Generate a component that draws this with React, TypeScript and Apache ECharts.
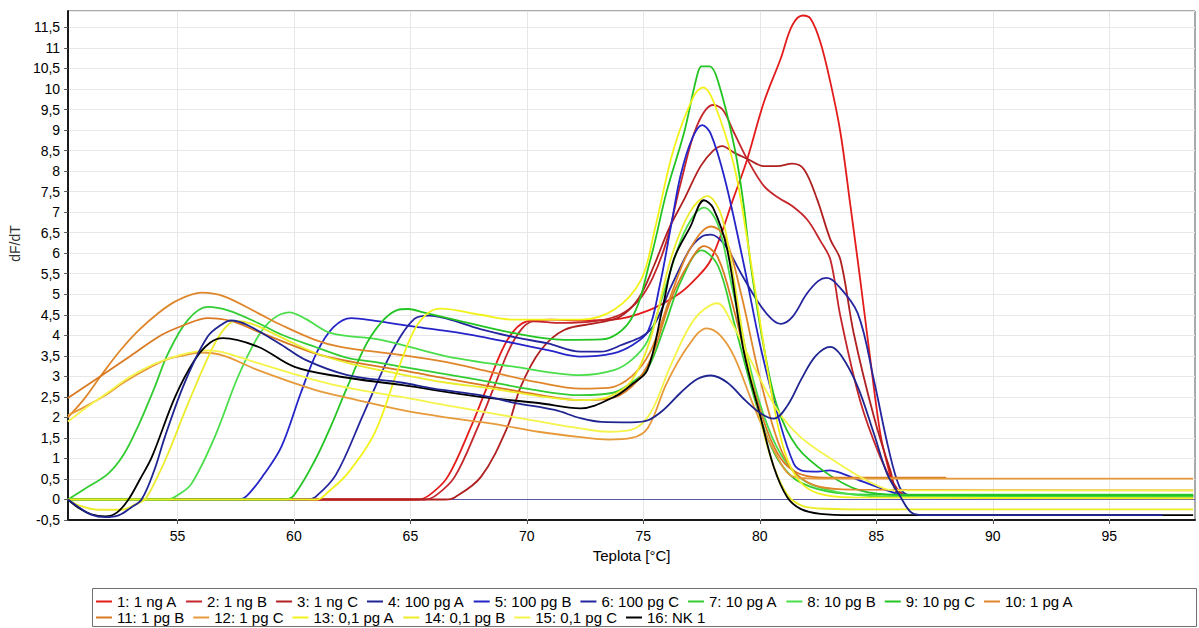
import React, { useEffect, useRef } from "react";
import * as echarts from "echarts";

const FONT = "'Liberation Sans', Arial, Helvetica, sans-serif";

const xTicks = [55, 60, 65, 70, 75, 80, 85, 90, 95];
const xRange = [50.31, 98.68];
const yRange = [-0.5, 11.9];

const seriesNames = [
  "1: 1 ng A", "2: 1 ng B", "3: 1 ng C",
  "4: 100 pg A", "5: 100 pg B", "6: 100 pg C",
  "7: 10 pg A", "8: 10 pg B", "9: 10 pg C",
  "10: 1 pg A", "11: 1 pg B", "12: 1 pg C",
  "13: 0,1 pg A", "14: 0,1 pg B", "15: 0,1 pg C",
  "16: NK 1",
];

const seriesColors = [
  "#e31b1b", "#c4262b", "#b02020",
  "#1f2590", "#2424c8", "#25259e",
  "#33cc33", "#4ade4a", "#22c422",
  "#e0862a", "#d97a22", "#e69a3a",
  "#f2f21a", "#ecec2a", "#f4f44a",
  "#000000",
];

// [temperature °C, dF/dT]
const ng1A = [[50.3,0],[65.3,0],[65.8,0.1],[66.6,0.55],[67.6,1.77],[68.3,2.75],[69.17,3.89],[70.0,4.34],[71,4.38],[72.3,4.36],[73.7,4.38],[75.2,4.6],[76.5,5.0],[77.2,5.35],[77.9,5.84],[78.9,7.39],[79.46,8.29],[80.17,9.67],[80.89,10.73],[81.39,11.55],[81.85,11.79],[82.18,11.71],[82.6,11.14],[83.03,10.16],[83.46,8.94],[83.89,7.15],[84.3,5.4],[84.7,3.6],[85.17,1.61],[85.5,0.8],[85.75,0.38],[86.2,0.12],[87,0.1],[98.6,0.1]];
const ng1B = [[50.3,0],[65.6,0],[66.1,0.1],[66.9,0.55],[67.9,1.77],[68.6,2.75],[69.46,3.89],[70.3,4.34],[71.5,4.3],[73,4.35],[74,4.5],[74.8,4.85],[75.4,5.4],[76.0,6.3],[76.6,7.7],[77.3,9.1],[78.0,9.61],[78.4,9.5],[78.89,8.94],[79.46,8.29],[80.17,7.64],[80.8,7.35],[81.39,7.15],[82.03,6.82],[82.6,6.3],[83.03,5.84],[83.46,4.46],[84.3,2.42],[85.17,1.03],[85.75,0.38],[86.2,0.1],[87,0.07],[98.6,0.07]];
const ng1C = [[50.3,0],[66.5,0],[66.9,0.05],[68.03,0.55],[69.17,1.77],[69.74,2.75],[70.6,3.64],[71.6,4.13],[73.0,4.3],[74.0,4.45],[74.8,4.9],[75.46,5.7],[76.1,6.6],[76.75,7.31],[77.46,8.12],[78.0,8.5],[78.39,8.61],[78.89,8.45],[79.46,8.3],[80.17,8.12],[80.75,8.12],[81.39,8.18],[81.9,8.04],[82.46,7.31],[83.03,6.33],[83.46,5.84],[84.03,4.05],[84.9,2.01],[85.6,0.71],[86.0,0.12],[87,0.1],[98.6,0.1]];
const pg100A = [[50.3,0],[50.8,-0.2],[51.3,-0.37],[51.9,-0.43],[52.5,-0.38],[53.0,-0.2],[53.46,0],[54.0,0.7],[54.46,1.52],[55.3,2.83],[56.3,3.97],[57.0,4.3],[57.3,4.36],[58.0,4.25],[59.46,3.77],[60.5,3.4],[62.3,3.03],[64.6,2.85],[66,2.7],[68.0,2.54],[69.5,2.35],[71.2,2.18],[72.3,1.98],[73.2,1.89],[74.5,1.88],[75.2,1.93],[75.9,2.2],[76.6,2.6],[77.3,2.93],[77.9,3.02],[78.6,2.85],[79.4,2.4],[80.03,2.1],[80.6,1.97],[81.2,2.3],[81.8,2.95],[82.4,3.5],[83.03,3.72],[83.5,3.5],[84.2,2.75],[84.9,1.6],[85.46,0.63],[86.0,0.1],[86.6,-0.35],[87.2,-0.38],[97.3,-0.38]];
const pg100B = [[50.3,0],[57.6,0],[58.0,0.1],[58.7,0.6],[59.46,1.28],[60.3,2.6],[61.0,3.6],[61.7,4.2],[62.46,4.42],[63.5,4.35],[65.17,4.21],[66.6,4.1],[68.0,3.97],[69.5,3.8],[70.9,3.64],[72.3,3.48],[73.7,3.56],[74.5,3.75],[75.2,4.1],[75.7,5.2],[76.2,6.7],[76.6,7.9],[77.1,8.8],[77.53,9.12],[77.9,8.9],[78.5,7.8],[79.3,5.76],[80.03,3.72],[80.75,2.1],[81.46,0.87],[81.9,0.69],[82.5,0.68],[83.0,0.71],[83.6,0.62],[84.3,0.46],[85.46,0.22],[86.2,0.1],[87,0.08],[98.6,0.08]];
const pg100C = [[50.3,0],[60.6,0],[60.9,0.05],[61.8,0.6],[63.0,2.1],[64.17,3.56],[65.17,4.4],[65.8,4.48],[66.6,4.4],[68.0,4.15],[69.5,3.95],[70.9,3.8],[72.3,3.6],[73.17,3.6],[74.0,3.75],[75.3,4.13],[76.2,5.2],[77.0,6.1],[77.5,6.4],[77.9,6.45],[78.5,6.2],[79.2,5.5],[79.96,4.78],[80.5,4.4],[80.9,4.28],[81.4,4.45],[82.0,5.0],[82.5,5.32],[82.86,5.4],[83.3,5.25],[84.2,4.54],[84.9,2.9],[85.5,1.3],[86.0,0.3],[86.4,0.1],[87,0.07],[98.6,0.07]];
const pg10A = [[50.3,0],[51.0,0.25],[52.03,0.63],[52.7,1.1],[53.3,1.77],[54.0,2.7],[54.6,3.56],[55.46,4.38],[56.3,4.69],[57.2,4.6],[58.46,4.3],[59.46,4.02],[60.9,3.72],[62.3,3.45],[63.45,3.35],[65.5,3.15],[68.0,2.91],[70.0,2.7],[72.3,2.54],[73.7,2.6],[74.5,2.85],[75.2,3.2],[75.9,4.2],[76.6,5.3],[77.5,6.07],[78.2,5.7],[78.9,4.3],[79.6,2.8],[80.2,1.7],[80.75,1.0],[81.5,0.5],[82.5,0.25],[83.5,0.15],[85,0.12],[98.6,0.12]];
const pg10B = [[50.3,0],[54.6,0],[55.0,0.1],[55.6,0.38],[56.6,1.52],[57.6,2.99],[58.46,3.97],[59.1,4.4],[59.8,4.56],[60.5,4.4],[61.6,4.05],[63.74,3.89],[66.6,3.48],[69.5,3.23],[72.3,3.03],[73.74,3.15],[74.5,3.4],[75.17,3.85],[75.8,4.9],[76.6,6.3],[77.2,6.95],[77.6,7.11],[78.2,6.7],[78.8,5.2],[79.5,3.4],[80.2,2.0],[80.9,1.1],[81.8,0.5],[82.8,0.25],[84,0.12],[85.5,0.07],[98.6,0.07]];
const pg10C = [[50.3,0],[59.6,0],[60.0,0.1],[60.9,0.95],[61.6,1.8],[62.3,2.75],[63.3,3.97],[64.46,4.62],[64.9,4.64],[65.6,4.55],[66.6,4.42],[69.46,4.05],[71.6,3.89],[73.2,3.9],[74.46,4.38],[75.3,5.84],[76.0,7.5],[76.75,8.94],[77.3,10.31],[77.5,10.55],[77.85,10.55],[78.2,10.2],[78.9,8.61],[79.3,7.2],[79.6,5.76],[80.17,3.72],[80.75,2.26],[81.6,1.28],[82.9,0.63],[84.3,0.22],[86.0,0.11],[98.6,0.1]];
const pg1A = [[50.3,2.0],[51.0,2.45],[51.7,3.0],[52.5,3.6],[53.3,4.1],[54.2,4.55],[55.0,4.85],[56.03,5.04],[57.0,4.95],[58.46,4.54],[59.46,4.25],[60.9,3.89],[62.0,3.72],[64.6,3.52],[66.5,3.35],[68.5,3.1],[70.5,2.85],[72.3,2.7],[73.5,2.72],[74.5,3.0],[75.3,3.6],[76.2,5.0],[77.0,6.1],[77.9,6.65],[78.5,6.4],[79.2,5.0],[79.9,3.2],[80.5,1.9],[81.0,1.1],[81.6,0.6],[82.5,0.32],[84,0.24],[98.6,0.22]];
const pg1B = [[50.3,2.47],[51.7,3.0],[53.0,3.5],[54.3,4.0],[55.3,4.25],[56.3,4.42],[57.3,4.35],[58.46,4.09],[60.9,3.56],[62.5,3.35],[64.6,3.15],[66.5,2.95],[68.5,2.75],[70.5,2.55],[72.3,2.42],[73.5,2.45],[74.5,2.75],[75.3,3.4],[76.2,4.9],[77.0,5.8],[77.6,6.17],[78.2,5.9],[78.9,4.6],[79.6,3.0],[80.3,1.7],[80.9,1.0],[81.6,0.65],[82.5,0.54],[84,0.53],[88,0.53]];
const pg1C = [[50.3,2.05],[51.0,2.25],[51.8,2.5],[52.7,2.85],[53.6,3.15],[54.5,3.4],[55.2,3.5],[56.0,3.58],[57.0,3.5],[58.46,3.15],[60.9,2.67],[62.5,2.45],[64.6,2.18],[66.5,2.0],[68.5,1.85],[70.5,1.65],[72.3,1.52],[73.5,1.46],[74.5,1.5],[75.2,1.75],[76.0,2.83],[76.9,3.72],[77.72,4.17],[78.3,4.0],[78.9,3.48],[79.75,2.26],[80.6,1.2],[81.46,0.55],[82.5,0.51],[84,0.51],[98.6,0.51]];
const pg01A = [[50.3,0],[61.0,0],[61.5,0.2],[62.3,0.63],[63.46,1.61],[64.46,3.15],[65.17,4.13],[65.75,4.54],[66.3,4.65],[68.0,4.5],[69.46,4.38],[72.3,4.38],[73.74,4.62],[74.9,5.35],[75.5,6.6],[76.3,8.53],[77.17,9.83],[77.57,10.04],[78.03,9.67],[78.9,8.12],[79.46,6.33],[80.1,4.0],[80.6,2.3],[81.1,1.1],[81.7,0.45],[82.5,0.15],[84,0.05],[98.6,0.03]];
const pg01B = [[50.3,0],[50.8,-0.15],[51.6,-0.25],[52.6,-0.25],[53.2,-0.12],[53.6,0],[54.1,0.5],[54.6,1.12],[55.46,2.34],[56.46,3.64],[57.0,4.15],[57.5,4.35],[58.2,4.28],[59.46,3.95],[61.0,3.55],[62.5,3.3],[64.6,3.05],[66.5,2.85],[68.5,2.7],[70.5,2.52],[72.3,2.42],[73.5,2.5],[74.5,2.9],[75.3,3.9],[76.2,5.9],[77.0,7.0],[77.75,7.39],[78.3,7.0],[78.7,6.0],[79.4,3.6],[80.0,2.0],[80.6,0.8],[81.2,0.1],[81.8,-0.15],[82.6,-0.22],[84,-0.24],[98.6,-0.24]];
const pg01C = [[50.3,1.9],[51.0,2.2],[52.0,2.6],[53.0,3.0],[54.0,3.3],[55.0,3.5],[56.3,3.63],[57.2,3.55],[58.46,3.32],[60.9,2.91],[62.5,2.7],[64.6,2.5],[66.5,2.3],[68.5,2.1],[70.5,1.9],[72.3,1.73],[73.5,1.65],[74.5,1.7],[75.3,2.1],[76.2,3.3],[77.2,4.4],[78.18,4.78],[78.8,4.3],[79.6,3.4],[80.75,2.18],[81.75,1.52],[83.17,0.95],[84.6,0.46],[85.75,0.22],[87,0.22],[98.6,0.22]];
const nk1 = [[50.3,0],[50.8,-0.22],[51.3,-0.36],[51.9,-0.41],[52.4,-0.32],[52.9,0],[53.4,0.5],[53.9,1.03],[54.9,2.5],[55.74,3.4],[56.4,3.82],[56.96,3.93],[58.46,3.72],[60.03,3.23],[62.0,2.99],[64.6,2.79],[68.0,2.5],[70.5,2.35],[72.3,2.22],[73.75,2.5],[74.5,2.8],[75.17,3.15],[75.8,4.6],[76.3,5.84],[77.03,6.66],[77.6,7.29],[78.0,7.1],[78.6,6.09],[79.3,3.64],[80.03,2.01],[80.6,0.79],[81.17,0.06],[81.75,-0.23],[82.6,-0.35],[84,-0.38],[98.6,-0.38]];

const seriesData = [ng1A, ng1B, ng1C, pg100A, pg100B, pg100C, pg10A, pg10B, pg10C, pg1A, pg1B, pg1C, pg01A, pg01B, pg01C, nk1];

export default function App() {
  const ref = useRef<HTMLDivElement>(null);

  useEffect(() => {
    if (!ref.current) return;
    const chart = echarts.init(ref.current, null, { renderer: "svg" });

    const curveSeries = seriesData.map((d, i) => ({
      name: seriesNames[i],
      type: "line",
      data: d,
      showSymbol: false,
      smooth: 0.35,
      z: i === 3 ? 3 : 2,
      lineStyle: { color: seriesColors[i], width: 1.8 },
      itemStyle: { color: seriesColors[i] },
    }));

    const legendItem = (n: string) => ({ name: n, textStyle: { width: 80 } });
    const legendBase = {
      left: 96,
      orient: "horizontal",
      icon: "rect",
      itemWidth: 16,
      itemHeight: 2,
      itemGap: 9,
      padding: 0,
      selectedMode: false,
      textStyle: { fontSize: 15, color: "#000", fontFamily: FONT, width: 80 },
    };

    chart.setOption({
      animation: false,
      backgroundColor: "#fff",
      grid: {
        left: 67, right: 4, top: 11, bottom: 108,
        show: true, borderColor: "#555", borderWidth: 1, backgroundColor: "#fff",
      },
      xAxis: {
        type: "value",
        min: xRange[0],
        max: xRange[1],
        name: "Teplota [°C]",
        nameLocation: "middle",
        nameGap: 24,
        nameTextStyle: { fontSize: 15, color: "#000", fontFamily: FONT },
        axisLine: { show: true, onZero: false, lineStyle: { color: "#1a1a1a", width: 2 } },
        axisTick: { show: true, length: 4, customValues: xTicks, lineStyle: { color: "#555" } },
        axisLabel: { customValues: xTicks, fontSize: 14, color: "#000", margin: 9, fontFamily: FONT },
        splitLine: { show: false },
      },
      yAxis: {
        type: "value",
        min: yRange[0],
        max: yRange[1],
        interval: 0.5,
        name: "dF/dT",
        nameLocation: "middle",
        nameGap: 40,
        nameTextStyle: { fontSize: 14, color: "#333", fontFamily: FONT, padding: [0, 0, 0, 44] },
        axisLine: { show: true, lineStyle: { color: "#1a1a1a", width: 2 } },
        axisTick: { show: true, length: 4, lineStyle: { color: "#555" } },
        axisLabel: {
          fontSize: 14, color: "#000", margin: 8, fontFamily: FONT, showMaxLabel: false,
          formatter: (v: number) => String(v).replace(".", ","),
        },
        splitLine: { show: true, lineStyle: { color: "#e8e8e8", width: 1 } },
      },
      legend: [
        { ...legendBase, top: 594, data: seriesNames.slice(0, 10).map(legendItem) },
        { ...legendBase, top: 610, data: seriesNames.slice(10).map(legendItem) },
      ],
      graphic: [
        {
          type: "rect",
          shape: { x: 92.5, y: 588.5, width: 1104, height: 38 },
          style: { fill: "none", stroke: "#707070", lineWidth: 1 },
          silent: true,
        },
      ],
      series: [
        {
          name: "__grid",
          type: "line",
          data: [],
          silent: true,
          z: 1,
          markLine: {
            silent: true,
            z: 1,
            symbol: ["none", "none"],
            label: { show: false },
            data: [
              ...xTicks.map((v) => ({ xAxis: v, lineStyle: { color: "#e6e6e6", width: 1, type: "solid" } })),
              { yAxis: 0, lineStyle: { color: "#5a5aa8", width: 1, type: "solid" } },
            ],
          },
        },
        ...curveSeries,
      ],
    });

    return () => chart.dispose();
  }, []);

  return (
    <div
      ref={ref}
      style={{ position: "fixed", left: 0, top: 0, width: 1199, height: 628, background: "#fff" }}
    />
  );
}
